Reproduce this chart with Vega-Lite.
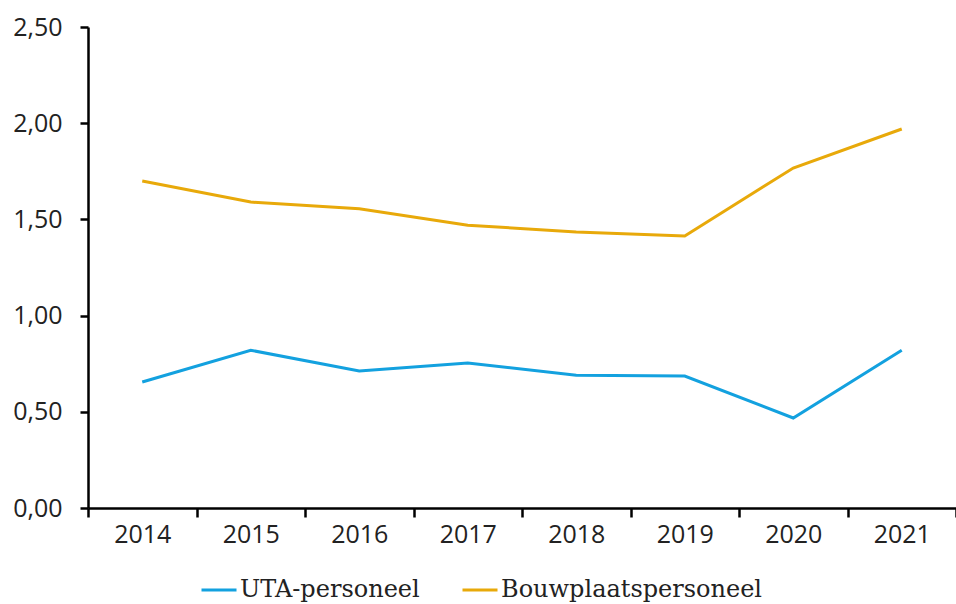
{
  "$schema": "https://vega.github.io/schema/vega-lite/v6.json",
  "autosize": {"type": "none"},
  "width": 868,
  "height": 481,
  "padding": {"left": 88, "top": 27, "right": 0, "bottom": 96},
  "background": "white",
  "config": {"view": {"stroke": null}, "font": "Open Sans"},
  "data": {
    "values": [
      {"jaar": "2014", "groep": "UTA-personeel", "waarde": 0.655},
      {"jaar": "2015", "groep": "UTA-personeel", "waarde": 0.82},
      {"jaar": "2016", "groep": "UTA-personeel", "waarde": 0.712},
      {"jaar": "2017", "groep": "UTA-personeel", "waarde": 0.754},
      {"jaar": "2018", "groep": "UTA-personeel", "waarde": 0.69},
      {"jaar": "2019", "groep": "UTA-personeel", "waarde": 0.686},
      {"jaar": "2020", "groep": "UTA-personeel", "waarde": 0.468},
      {"jaar": "2021", "groep": "UTA-personeel", "waarde": 0.82},
      {"jaar": "2014", "groep": "Bouwplaatspersoneel", "waarde": 1.70},
      {"jaar": "2015", "groep": "Bouwplaatspersoneel", "waarde": 1.59},
      {"jaar": "2016", "groep": "Bouwplaatspersoneel", "waarde": 1.555},
      {"jaar": "2017", "groep": "Bouwplaatspersoneel", "waarde": 1.47},
      {"jaar": "2018", "groep": "Bouwplaatspersoneel", "waarde": 1.435},
      {"jaar": "2019", "groep": "Bouwplaatspersoneel", "waarde": 1.414},
      {"jaar": "2020", "groep": "Bouwplaatspersoneel", "waarde": 1.767},
      {"jaar": "2021", "groep": "Bouwplaatspersoneel", "waarde": 1.97}
    ]
  },
  "mark": {"type": "line", "strokeWidth": 3},
  "encoding": {
    "x": {
      "field": "jaar",
      "type": "ordinal",
      "scale": {"type": "band", "paddingInner": 0, "paddingOuter": 0},
      "axis": {
        "title": null,
        "labelAngle": 0,
        "labelFontSize": 25,
        "labelColor": "#222",
        "labelPadding": 5,
        "domainColor": "black",
        "domainWidth": 2.5,
        "tickColor": "black",
        "tickWidth": 2.5,
        "tickSize": 9,
        "tickBand": "extent",
        "grid": false
      }
    },
    "y": {
      "field": "waarde",
      "type": "quantitative",
      "scale": {"domain": [0, 2.5], "nice": false},
      "axis": {
        "title": null,
        "values": [0, 0.5, 1, 1.5, 2, 2.5],
        "labelExpr": "replace(format(datum.value, '.2f'), '.', ',')",
        "labelFontSize": 25,
        "labelColor": "#222",
        "labelPadding": 18,
        "domainColor": "black",
        "domainWidth": 2.5,
        "tickColor": "black",
        "tickWidth": 2.5,
        "tickSize": 8,
        "grid": false
      }
    },
    "color": {
      "field": "groep",
      "type": "nominal",
      "sort": ["UTA-personeel", "Bouwplaatspersoneel"],
      "scale": {"domain": ["UTA-personeel", "Bouwplaatspersoneel"], "range": ["#13a1df", "#e8a90a"]},
      "legend": {
        "title": null,
        "orient": "none",
        "legendX": 112,
        "legendY": 544,
        "direction": "horizontal",
        "symbolType": "stroke",
        "symbolSize": 1225,
        "symbolStrokeWidth": 3,
        "labelFont": "DejaVu Serif",
        "labelFontSize": 24,
        "labelColor": "#222",
        "labelOffset": 2,
        "columnPadding": 36,
        "labelLimit": 400
      }
    }
  }
}
